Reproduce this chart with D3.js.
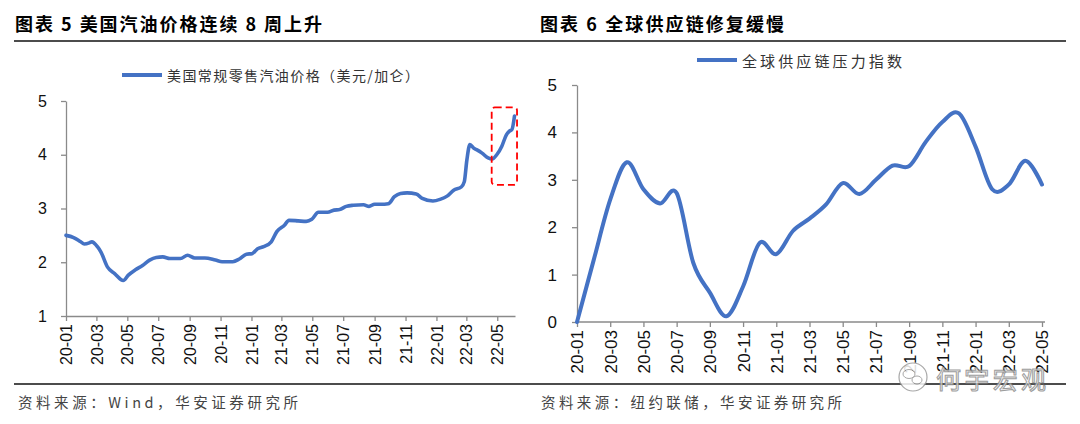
<!DOCTYPE html>
<html>
<head>
<meta charset="utf-8">
<script src="https://cdn.jsdelivr.net/npm/d3@7"></script>
<style>
  html, body { margin: 0; padding: 0; background: #fff; }
  svg { display: block; }
  .cjk { font-family: "Noto Sans CJK SC", "Noto Sans", sans-serif; }
  .num { font-family: "Liberation Sans", Arial, sans-serif; }
</style>
</head>
<body>
<svg id="chart" width="1080" height="424"></svg>
<script>
// ---------- data: left chart (US regular retail gasoline price, weekly readings) ----------
const gasDates = [
  "2020-01-01","2020-01-16","2020-01-30","2020-02-06","2020-02-16","2020-02-21","2020-03-03","2020-03-10",
  "2020-03-23","2020-04-06","2020-04-23","2020-05-03","2020-05-17","2020-05-31","2020-06-14","2020-06-27",
  "2020-07-10","2020-07-24","2020-08-14","2020-08-28","2020-09-11","2020-10-01","2020-10-22","2020-11-04",
  "2020-11-25","2020-12-08","2020-12-22","2021-01-02","2021-01-13","2021-01-25","2021-02-09","2021-02-20",
  "2021-03-07","2021-03-16","2021-04-03","2021-04-19","2021-04-30","2021-05-13","2021-05-31","2021-06-13",
  "2021-06-24","2021-07-07","2021-07-21","2021-08-10","2021-08-21","2021-09-01","2021-09-13","2021-09-28",
  "2021-10-10","2021-10-22","2021-11-04","2021-11-22","2021-12-04","2021-12-25","2022-01-08","2022-01-22",
  "2022-02-04","2022-02-19","2022-02-25","2022-03-02","2022-03-08","2022-03-16","2022-03-22","2022-04-01",
  "2022-04-13","2022-04-21","2022-04-30","2022-05-10","2022-05-19","2022-05-25","2022-05-30","2022-06-04"
];
const gasValues = [
  2.50,2.46,2.38,2.34,2.36,2.38,2.29,2.19,
  1.91,1.79,1.66,1.76,1.86,1.94,2.04,2.09,
  2.10,2.07,2.07,2.13,2.08,2.08,2.04,2.01,
  2.01,2.06,2.15,2.16,2.25,2.29,2.38,2.57,
  2.69,2.78,2.77,2.76,2.80,2.93,2.93,2.97,
  2.98,3.04,3.06,3.07,3.04,3.08,3.08,3.09,
  3.22,3.28,3.29,3.27,3.19,3.14,3.17,3.23,
  3.34,3.40,3.50,3.90,4.19,4.12,4.09,4.03,
  3.94,3.92,4.00,4.16,4.37,4.44,4.47,4.72
];
const gasTickLabels = ["20-01","20-03","20-05","20-07","20-09","20-11","21-01","21-03",
                       "21-05","21-07","21-09","21-11","22-01","22-03","22-05"];
const gasYTicks = [1,2,3,4,5];
const gasBoxDates = ["2022-04-20","2022-06-09"];   // highlight annotation (date range)
const gasBoxValues = [4.88, 3.44];                 // highlight annotation (value range)

// ---------- data: right chart (global supply chain pressure index, monthly) ----------
const gscpiMonths = ["20-01","20-02","20-03","20-04","20-05","20-06","20-07","20-08","20-09","20-10",
                     "20-11","20-12","21-01","21-02","21-03","21-04","21-05","21-06","21-07","21-08",
                     "21-09","21-10","21-11","21-12","22-01","22-02","22-03","22-04","22-05"];
const gscpiValues = [0, 1.3, 2.58, 3.37, 2.8, 2.5, 2.72, 1.25, 0.62, 0.12,
                     0.75, 1.67, 1.43, 1.92, 2.18, 2.48, 2.93, 2.7, 3.0, 3.3,
                     3.29, 3.8, 4.22, 4.4, 3.7, 2.8, 2.9, 3.4, 2.9];
const gscpiYTicks = [0,1,2,3,4,5];

const titleLeft = "图表 5  美国汽油价格连续 8 周上升";
const titleRight = "图表 6  全球供应链修复缓慢";
const legendLeft = "美国常规零售汽油价格（美元/加仑）";
const legendRight = "全球供应链压力指数";
const sourceLeft = "资料来源：Wind，华安证券研究所";
const sourceRight = "资料来源：纽约联储，华安证券研究所";
const watermark = "何宇宏观";

// ---------- drawing ----------
const BLUE = "#4472c4";
const AXIS = "#8a8a8a";
const svg = d3.select("#chart");
const parseDay = d3.timeParse("%Y-%m-%d");
const parseYM = d3.timeParse("%y-%m");

// header / footer rules
svg.append("line").attr("x1", 14).attr("x2", 1066).attr("y1", 41).attr("y2", 41)
  .attr("stroke", "#111").attr("stroke-width", 1.5);
svg.append("line").attr("x1", 14).attr("x2", 1066).attr("y1", 384).attr("y2", 384)
  .attr("stroke", "#111").attr("stroke-width", 1.5);

function title(x, txt, len) {
  svg.append("text").attr("class", "cjk").attr("x", x).attr("y", 31)
    .attr("font-size", 18).attr("font-weight", 700).attr("fill", "#000")
    .attr("textLength", len).attr("lengthAdjust", "spacing").text(txt);
}
title(15, titleLeft, 307);
title(540, titleRight, 244);

function source(x, txt, len) {
  svg.append("text").attr("class", "cjk").attr("x", x).attr("y", 408)
    .attr("font-size", 14.5).attr("fill", "#444")
    .attr("textLength", len).attr("lengthAdjust", "spacing").text(txt);
}
source(18, sourceLeft, 280);
source(541, sourceRight, 301);

function legend(x1, x2, y, txt, len, fs) {
  svg.append("line").attr("x1", x1).attr("x2", x2).attr("y1", y).attr("y2", y)
    .attr("stroke", BLUE).attr("stroke-width", 4);
  svg.append("text").attr("class", "cjk").attr("x", x2 + 5).attr("y", y)
    .attr("dominant-baseline", "central").attr("font-size", fs).attr("fill", "#333")
    .attr("textLength", len).attr("lengthAdjust", "spacing").text(txt);
}
legend(122, 162, 75, legendLeft, 252, 14);
legend(697, 737, 60, legendRight, 160, 15);

function styleAxis(g) {
  g.select(".domain").attr("stroke", AXIS).attr("stroke-width", 1.3);
  g.selectAll(".tick line").attr("stroke", AXIS).attr("stroke-width", 1.3);
  g.selectAll(".tick text").attr("fill", "#111");
}

// ----- left chart -----
const gasData = gasDates.map((d, i) => ({ date: parseDay(d), value: gasValues[i] }));
const xL = d3.scaleTime().domain([parseDay("2020-01-01"), parseDay("2022-06-05")]).range([66, 515]);
const yL = d3.scaleLinear().domain([1, 5]).range([316, 101]);

const gxL = svg.append("g").attr("transform", `translate(0,${yL(1)})`)
  .call(d3.axisBottom(xL).tickValues(gasTickLabels.map(parseYM))
    .tickFormat(d3.timeFormat("%y-%m")).tickSize(5).tickSizeOuter(0));
gxL.selectAll(".tick text").attr("class", "num").attr("font-size", 16)
  .attr("y", 0).attr("x", -8).attr("dy", "0.35em")
  .attr("transform", "rotate(-90)").style("text-anchor", "end");
styleAxis(gxL);

const gyL = svg.append("g").attr("transform", `translate(${xL.range()[0]},0)`)
  .call(d3.axisLeft(yL).tickValues(gasYTicks).tickFormat(d3.format("d"))
    .tickSize(5).tickPadding(14).tickSizeOuter(0));
gyL.selectAll(".tick text").attr("class", "num").attr("font-size", 16);
styleAxis(gyL);

svg.append("path").datum(gasData)
  .attr("fill", "none").attr("stroke", BLUE).attr("stroke-width", 3.6)
  .attr("stroke-linejoin", "round").attr("stroke-linecap", "round")
  .attr("d", d3.line().x(d => xL(d.date)).y(d => yL(d.value)).curve(d3.curveMonotoneX));

// red dashed highlight box
const bx0 = xL(parseDay(gasBoxDates[0])), bx1 = xL(parseDay(gasBoxDates[1]));
const by0 = yL(gasBoxValues[0]), by1 = yL(gasBoxValues[1]);
svg.append("rect").attr("x", bx0).attr("y", by0).attr("width", bx1 - bx0).attr("height", by1 - by0)
  .attr("rx", 3).attr("fill", "none").attr("stroke", "#ff0000").attr("stroke-width", 1.8)
  .attr("stroke-dasharray", "7,4");

// ----- right chart -----
const xR = d3.scalePoint().domain(gscpiMonths).range([577, 1042]);
const yR = d3.scaleLinear().domain([0, 5]).range([322, 85]);

const gxR = svg.append("g").attr("transform", `translate(0,${yR(0)})`)
  .call(d3.axisBottom(xR).tickValues(gscpiMonths.filter((d, i) => i % 2 === 0))
    .tickSize(5).tickSizeOuter(0));
gxR.select(".domain").attr("d", `M${xR.range()[0]},0H${xR.range()[1] + 3}`);
gxR.selectAll(".tick text").attr("class", "num").attr("font-size", 17)
  .attr("y", 0).attr("x", -8).attr("dy", "0.35em")
  .attr("transform", "rotate(-90)").style("text-anchor", "end");
styleAxis(gxR);

const gyR = svg.append("g").attr("transform", `translate(${xR.range()[0]},0)`)
  .call(d3.axisLeft(yR).tickValues(gscpiYTicks).tickFormat(d3.format("d"))
    .tickSize(5).tickPadding(15).tickSizeOuter(0));
gyR.selectAll(".tick text").attr("class", "num").attr("font-size", 17);
styleAxis(gyR);

svg.append("path").datum(gscpiValues)
  .attr("fill", "none").attr("stroke", BLUE).attr("stroke-width", 4)
  .attr("stroke-linejoin", "round").attr("stroke-linecap", "round")
  .attr("d", d3.line().x((d, i) => xR(gscpiMonths[i])).y(d => yR(d)).curve(d3.curveCardinal.tension(0)));

// ----- watermark -----
const wm = svg.append("g").attr("opacity", 0.85);
wm.append("circle").attr("cx", 913).attr("cy", 377).attr("r", 14)
  .attr("fill", "#fff").attr("stroke", "#999").attr("stroke-width", 1.2);
wm.append("ellipse").attr("cx", 909).attr("cy", 374).attr("rx", 6).attr("ry", 4.5)
  .attr("fill", "none").attr("stroke", "#999").attr("stroke-width", 1);
wm.append("ellipse").attr("cx", 917).attr("cy", 380).attr("rx", 5).attr("ry", 4)
  .attr("fill", "none").attr("stroke", "#999").attr("stroke-width", 1);
wm.append("text").attr("class", "cjk").attr("x", 936).attr("y", 378)
  .attr("dominant-baseline", "central").attr("font-size", 25)
  .attr("fill", "#f4f4f4").attr("stroke", "#8c8c8c").attr("stroke-width", 1)
  .attr("textLength", 110).attr("lengthAdjust", "spacing").text(watermark);
</script>
</body>
</html>
